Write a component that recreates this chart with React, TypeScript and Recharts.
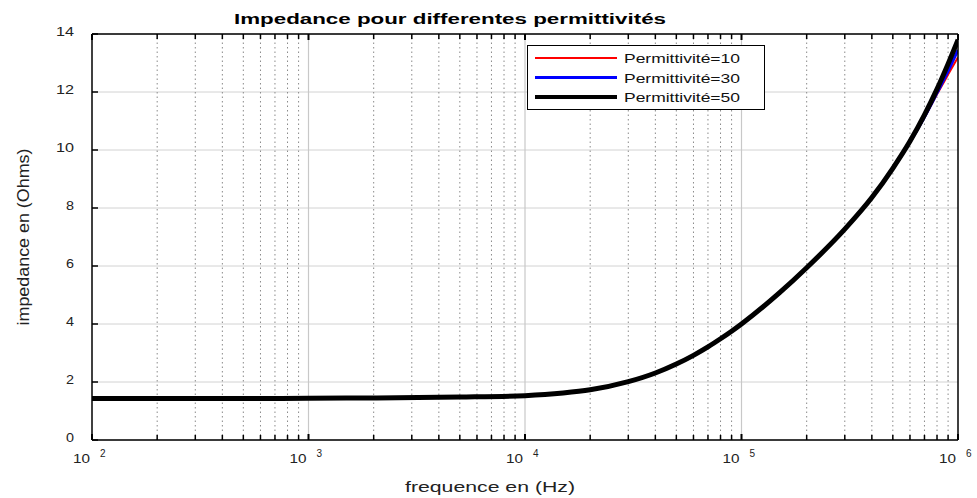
import React from 'react';
import {
  LineChart,
  Line,
  XAxis,
  YAxis,
  CartesianGrid,
  ReferenceLine,
  Legend,
  Label,
} from 'recharts';

// ---- data ----
const FREQ = [
  100, 200, 500, 1000, 2000, 5000, 10000, 15000, 20000, 30000, 40000, 50000,
  60000, 70000, 80000, 90000, 100000, 150000, 200000, 300000, 400000, 500000,
  600000, 700000, 800000, 900000, 1000000,
];
const Z_EPS10 = [
  1.43, 1.43, 1.43, 1.44, 1.45, 1.48, 1.53, 1.62, 1.73, 2.01, 2.31, 2.62, 2.92,
  3.21, 3.49, 3.75, 4.0, 5.08, 5.94, 7.27, 8.36, 9.36, 10.27, 11.12, 11.92,
  12.6, 13.2,
];
const Z_EPS30 = [
  1.43, 1.43, 1.43, 1.44, 1.45, 1.48, 1.53, 1.62, 1.73, 2.01, 2.31, 2.62, 2.92,
  3.21, 3.49, 3.75, 4.0, 5.08, 5.94, 7.27, 8.36, 9.36, 10.28, 11.14, 11.97,
  12.72, 13.45,
];
const Z_EPS50 = [
  1.43, 1.43, 1.43, 1.44, 1.45, 1.48, 1.53, 1.62, 1.73, 2.01, 2.31, 2.62, 2.92,
  3.21, 3.49, 3.75, 4.0, 5.08, 5.94, 7.27, 8.36, 9.37, 10.3, 11.21, 12.1,
  12.97, 13.8,
];

const SERIES = [
  { key: 'z10', name: 'Permittivité=10', color: '#ff0000', width: 2 },
  { key: 'z30', name: 'Permittivité=30', color: '#0000ff', width: 3 },
  { key: 'z50', name: 'Permittivité=50', color: '#000000', width: 5 },
];

const X_MAJOR = [100, 1000, 10000, 100000, 1000000];
const X_MINOR_FACTORS = [2, 3, 4, 5, 6, 7, 8, 9];
const Y_TICKS = [0, 2, 4, 6, 8, 10, 12, 14];

const TITLE = 'Impedance pour differentes permittivités';
const X_LABEL = 'frequence en (Hz)';
const Y_LABEL = 'impedance en (Ohms)';

const data = FREQ.map((f, i) => ({
  f,
  z10: Z_EPS10[i],
  z30: Z_EPS30[i],
  z50: Z_EPS50[i],
}));

const X_MINOR: number[] = [];
X_MAJOR.slice(0, -1).forEach((d) =>
  X_MINOR_FACTORS.forEach((m) => X_MINOR.push(d * m))
);
const X_ALL = [...X_MAJOR, ...X_MINOR].sort((a, b) => a - b);

const FONT = '"Liberation Sans", Arial, sans-serif';

const isMajor = (v: number) => X_MAJOR.includes(v);

const BottomTick = (props: any) => {
  const { x, y, payload } = props;
  const v = payload.value;
  const major = isMajor(v);
  const exp = Math.round(Math.log10(v));
  return (
    <g>
      <line x1={x} y1={y} x2={x} y2={y - (major ? 6 : 5)} stroke="#000" strokeWidth={major ? 2 : 1.5} />
      {major && (
        <g fontFamily={FONT} fill="#222">
          <text x={x - 2} y={y + 23} textAnchor="end" fontSize={12} textLength={17} lengthAdjust="spacingAndGlyphs">
            10
          </text>
          <text x={x + 8} y={y + 17} textAnchor="start" fontSize={10}>
            {exp}
          </text>
        </g>
      )}
    </g>
  );
};

const TopTick = (props: any) => {
  const { x, y, payload } = props;
  const major = isMajor(payload.value);
  return (
    <line x1={x} y1={y} x2={x} y2={y + (major ? 6 : 5)} stroke="#000" strokeWidth={major ? 2 : 1.5} />
  );
};

const LeftTick = (props: any) => {
  const { x, y, payload } = props;
  const s = String(payload.value);
  return (
    <g>
      <line x1={x} y1={y} x2={x + 6} y2={y} stroke="#000" strokeWidth={1.5} />
      <text
        x={74}
        y={y + 2}
        textAnchor="end"
        fontSize={12}
        fontFamily={FONT}
        fill="#222"
        {...(s.length > 1 ? { textLength: 18, lengthAdjust: 'spacingAndGlyphs' } : { textLength: 8, lengthAdjust: 'spacingAndGlyphs' })}
      >
        {s}
      </text>
    </g>
  );
};

const RightTick = (props: any) => {
  const { x, y } = props;
  return <line x1={x} y1={y} x2={x - 6} y2={y} stroke="#000" strokeWidth={1.5} />;
};

const TitleLabel = () => (
  <text
    x={450}
    y={24}
    textAnchor="middle"
    fontSize={14}
    fontWeight="bold"
    fontFamily={FONT}
    fill="#000"
    textLength={432}
    lengthAdjust="spacingAndGlyphs"
  >
    {TITLE}
  </text>
);

const XLabel = () => (
  <text
    x={490}
    y={492}
    textAnchor="middle"
    fontSize={14}
    fontFamily={FONT}
    fill="#222"
    textLength={170}
    lengthAdjust="spacingAndGlyphs"
  >
    {X_LABEL}
  </text>
);

const YLabel = () => (
  <text
    x={29}
    y={237}
    transform="rotate(-90 29 237)"
    textAnchor="middle"
    fontSize={17}
    fontFamily={'"Liberation Sans Narrow", "Liberation Sans", Arial, sans-serif'}
    fill="#222"
    textLength={177}
    lengthAdjust="spacingAndGlyphs"
  >
    {Y_LABEL}
  </text>
);

const LegendBox = () => (
  <svg width={240} height={66} style={{ display: 'block' }}>
    <rect x={0.5} y={0.5} width={237} height={64} fill="#fff" stroke="#000" strokeWidth={1} />
    {SERIES.map((s, i) => {
      const cy = 13 + i * 19.5;
      return (
        <g key={s.key}>
          <line x1={8} y1={cy} x2={90} y2={cy} stroke={s.color} strokeWidth={s.width > 4 ? 4 : s.width} />
          <text
            x={97}
            y={cy + 5}
            fontSize={13}
            fontFamily={FONT}
            fill="#111"
            textLength={116}
            lengthAdjust="spacingAndGlyphs"
          >
            {s.name}
          </text>
        </g>
      );
    })}
  </svg>
);

export default function App() {
  return (
    <div style={{ position: 'absolute', left: 0, top: 0, background: '#fff' }}>
      <LineChart
        width={977}
        height={498}
        data={data}
        margin={{ top: 33, right: 18, bottom: 0, left: 0 }}
      >
        <CartesianGrid
          xAxisId="b"
          yAxisId="l"
          vertical={false}
          horizontal={true}
          stroke="#d2d2d2"
          strokeWidth={1}
        />
        {X_MINOR.map((v) => (
          <ReferenceLine
            key={'m' + v}
            xAxisId="b"
            yAxisId="l"
            x={v}
            stroke="#8a8a8a"
            strokeWidth={1}
            strokeDasharray="1.5 3"
          />
        ))}
        {X_MAJOR.slice(1, -1).map((v) => (
          <ReferenceLine key={'M' + v} xAxisId="b" yAxisId="l" x={v} stroke="#c8c8c8" strokeWidth={1.2} />
        ))}
        <XAxis
          xAxisId="b"
          dataKey="f"
          type="number"
          scale="log"
          domain={[100, 1000000]}
          allowDataOverflow
          ticks={X_ALL}
          interval={0}
          height={58}
          tickSize={0}
          tickMargin={0}
          tickLine={false}
          tick={<BottomTick />}
          axisLine={{ stroke: '#000', strokeWidth: 1.5 }}
        >
          <Label content={<XLabel />} />
        </XAxis>
        <XAxis
          xAxisId="t"
          orientation="top"
          dataKey="f"
          type="number"
          scale="log"
          domain={[100, 1000000]}
          allowDataOverflow
          ticks={X_ALL}
          interval={0}
          height={1}
          tickSize={0}
          tickMargin={0}
          tickLine={false}
          tick={<TopTick />}
          axisLine={{ stroke: '#000', strokeWidth: 1.5 }}
        >
          <Label content={<TitleLabel />} />
        </XAxis>
        <YAxis
          yAxisId="l"
          type="number"
          domain={[0, 14]}
          ticks={Y_TICKS}
          interval={0}
          width={92}
          tickSize={0}
          tickMargin={0}
          tickLine={false}
          tick={<LeftTick />}
          axisLine={{ stroke: '#000', strokeWidth: 1.5 }}
        >
          <Label content={<YLabel />} />
        </YAxis>
        <YAxis
          yAxisId="r"
          orientation="right"
          type="number"
          domain={[0, 14]}
          ticks={Y_TICKS}
          interval={0}
          width={1}
          tickSize={0}
          tickMargin={0}
          tickLine={false}
          tick={<RightTick />}
          axisLine={{ stroke: '#000', strokeWidth: 1.5 }}
        />
        {SERIES.map((s) => (
          <Line
            key={s.key}
            xAxisId="b"
            yAxisId="l"
            dataKey={s.key}
            name={s.name}
            type="monotone"
            stroke={s.color}
            strokeWidth={s.width}
            dot={false}
            activeDot={false}
            isAnimationActive={false}
          />
        ))}
        <Legend
          layout="horizontal"
          verticalAlign="middle"
          align="center"
          content={<LegendBox />}
          wrapperStyle={{ position: 'absolute', left: 527, top: 45, width: 240, height: 66 }}
        />
      </LineChart>
    </div>
  );
}
